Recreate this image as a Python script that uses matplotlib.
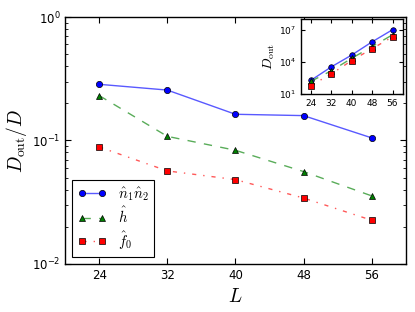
import numpy as np
import matplotlib
matplotlib.use('Agg')
import matplotlib.pyplot as plt
from matplotlib.font_manager import FontProperties

# system sizes
L = [24, 32, 40, 48, 56]

# D_out / D
ratio_n1n2 = [0.285, 0.256, 0.163, 0.159, 0.105]
ratio_h = [0.231, 0.108, 0.0833, 0.056, 0.0356]
ratio_f0 = [0.0886, 0.0567, 0.0482, 0.0342, 0.0226]

# D_out
dout_n1n2 = [2.0e2, 3.6e3, 4.6e4, 7.9e5, 1.07e7]
dout_h = [1.6e2, 1.55e3, 2.3e4, 2.8e5, 3.6e6]
dout_f0 = [6.5e1, 8.0e2, 1.4e4, 1.8e5, 2.3e6]

labels = [r'$\hat{n}_1\hat{n}_2$', r'$\hat{h}$', r'$\hat{f}_0$']

plt.rcParams['mathtext.fontset'] = 'dejavusans'
plt.rcParams['xtick.direction'] = 'in'
plt.rcParams['ytick.direction'] = 'in'
plt.rcParams['xtick.top'] = True
plt.rcParams['ytick.right'] = True
plt.rcParams['xtick.major.size'] = 4
plt.rcParams['ytick.major.size'] = 4
plt.rcParams['ytick.minor.size'] = 2
plt.rcParams['axes.linewidth'] = 1.0

# colour, marker, dash pattern (old matplotlib look)
styles = [((0, 0, 1), 'o', '-'),
          ((0, 0.5, 0), '^', (0, (6, 6))),
          ((1, 0, 0), 's', (0, (3, 5, 1, 5)))]

fig = plt.figure(figsize=(4.15, 3.12), dpi=100, facecolor='white')
ax = fig.add_axes([0.157, 0.154, 0.8206, 0.7915])

for y, lab, (c, m, ls) in zip([ratio_n1n2, ratio_h, ratio_f0], labels, styles):
    ax.plot(L, y, color=c + (0.65,), marker=m, linestyle=ls, lw=1,
            markerfacecolor=c, markersize=4.5, markeredgecolor='k',
            markeredgewidth=0.5, label=lab)

ax.set_yscale('log')
ax.set_xlim(20, 60)
ax.set_ylim(1e-2, 1)
ax.set_xticks(L)
ax.tick_params(labelsize=8.5)
ax.set_xlabel(r'$L$', fontsize=14, math_fontfamily='cm')
ax.set_ylabel(r'$D_{\rm out}/D$', fontsize=14, math_fontfamily='cm', labelpad=2)

leg = ax.legend(loc='lower left', numpoints=2, fancybox=False, framealpha=1,
                edgecolor='k', borderaxespad=0.5, handlelength=2.0,
                handletextpad=0.75, borderpad=0.35, labelspacing=0.22,
                prop=FontProperties(size=10.5, math_fontfamily='cm'))
leg.get_frame().set_linewidth(0.8)

# inset
ins = fig.add_axes([0.7246, 0.698, 0.2458, 0.24])
for y, (c, m, ls) in zip([dout_n1n2, dout_h, dout_f0], styles):
    ins.plot(L, y, color=c + (0.65,), marker=m, linestyle=ls, lw=1,
             markerfacecolor=c, markersize=4, markeredgecolor='k',
             markeredgewidth=0.5)
ins.set_yscale('log')
ins.set_xlim(20, 60)
ins.set_ylim(1e1, 1e8)
ins.set_xticks(L)
ins.set_yticks([1e1, 1e4, 1e7])
ins.tick_params(labelsize=6.5, length=3)
ins.tick_params(which='minor', length=1.5)
ins.set_ylabel(r'$D_{\rm out}$', fontsize=10, math_fontfamily='cm', labelpad=1)

fig.savefig('out.png', dpi=100, facecolor='white')
